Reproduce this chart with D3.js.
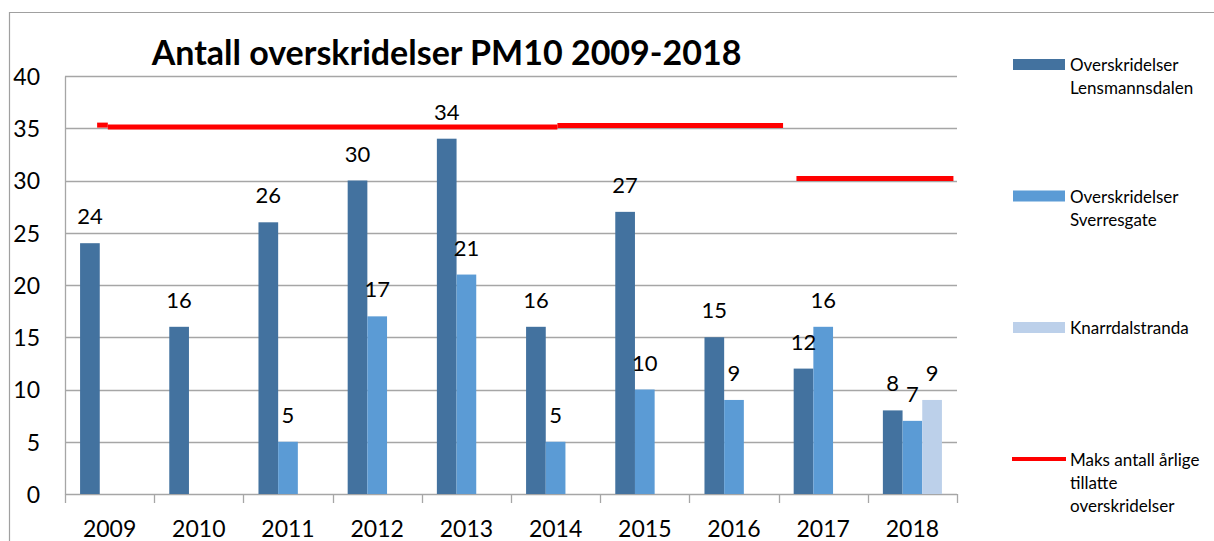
<!DOCTYPE html>
<html>
<head>
<meta charset="utf-8">
<script src="https://cdn.jsdelivr.net/npm/d3@7"></script>
<style>
  html, body { margin: 0; padding: 0; background: #fff; }
  svg { display: block; font-family: Lato, "Open Sans", sans-serif; }
</style>
</head>
<body>
<svg id="chart" width="1214" height="541"></svg>
<script>
// ---- data ----
const years = ["2009","2010","2011","2012","2013","2014","2015","2016","2017","2018"];
const seriesNames = ["Overskridelser Lensmannsdalen", "Overskridelser Sverresgate", "Knarrdalstranda"];
const lensmannsdalen = [24, 16, 26, 30, 34, 16, 27, 15, 12, 8];
const sverresgate    = [null, null, 5, 17, 21, 5, 10, 9, 16, 7];
const knarrdalstranda = [null, null, null, null, null, null, null, null, null, 9];
const yTicks = [0, 5, 10, 15, 20, 25, 30, 35, 40];
// "Maks antall årlige tillatte overskridelser" drawn segments (category-index positions)
const maksFrom  = [0.36, 0.48, 5.52, 8.20];
const maksTo    = [0.48, 5.52, 8.05, 9.96];
const maksValue = [35.3, 35.13, 35.27, 30.2];
const maksLabel = "Maks antall årlige tillatte overskridelser";
const titleText = "Antall overskridelser PM10 2009-2018";

const colors = ["#43729f", "#5b9bd5", "#bcd0ea"];
const red = "#ff0000";
const gridColor = "#a6a6a6";

const svg = d3.select("#chart");
const plot = {left: 65, right: 957, top: 76, bottom: 494};

// outer frame
svg.append("line").attr("x1", 9).attr("x2", 1214).attr("y1", 12.5).attr("y2", 12.5)
  .attr("stroke", "#a0a0a0").attr("stroke-width", 1.2);
svg.append("line").attr("x1", 9.5).attr("x2", 9.5).attr("y1", 12).attr("y2", 541)
  .attr("stroke", "#a0a0a0").attr("stroke-width", 1.2);

// scales
const y = d3.scaleLinear().domain([0, 40]).range([plot.bottom, plot.top]);
const x0 = d3.scaleBand().domain(years).range([plot.left, plot.right])
  .paddingInner(0.338).paddingOuter(0.169);
const x1 = d3.scaleBand().domain(d3.range(3)).range([0, x0.bandwidth()]);
const xc = d3.scaleLinear().domain([0, years.length]).range([plot.left, plot.right]);

// gridlines
svg.append("g").selectAll("line").data(yTicks).join("line")
  .attr("x1", plot.left).attr("x2", plot.right)
  .attr("y1", d => Math.round(y(d)) + 0.5).attr("y2", d => Math.round(y(d)) + 0.5)
  .attr("stroke", gridColor).attr("stroke-width", 1.3);

// y axis
const yAxis = svg.append("g").attr("transform", `translate(${plot.left},0)`)
  .call(d3.axisLeft(y).tickValues(yTicks).tickSize(0).tickPadding(25));
yAxis.select(".domain").attr("stroke", gridColor).attr("stroke-width", 1.3);
yAxis.selectAll("text").attr("font-size", 23).attr("fill", "#000")
  .attr("font-family", "Lato").attr("dy", "0.36em");

// x axis ticks at category boundaries
svg.append("g").selectAll("line").data(d3.range(years.length + 1)).join("line")
  .attr("x1", d => Math.round(xc(d)) + 0.5).attr("x2", d => Math.round(xc(d)) + 0.5)
  .attr("y1", plot.bottom).attr("y2", plot.bottom + 9)
  .attr("stroke", gridColor).attr("stroke-width", 1.3);
svg.append("g").selectAll("text").data(years).join("text")
  .attr("x", d => x0(d) + x0.bandwidth() / 2).attr("y", 537)
  .attr("text-anchor", "middle").attr("font-size", 23).text(d => d);

// bars
const allSeries = [lensmannsdalen, sverresgate, knarrdalstranda];
const barData = [];
allSeries.forEach((vals, si) => vals.forEach((v, i) => {
  if (v !== null) barData.push({year: years[i], s: si, v});
}));
svg.append("g").selectAll("rect").data(barData).join("rect")
  .attr("x", d => x0(d.year) + x1(d.s))
  .attr("width", x1.bandwidth())
  .attr("y", d => y(d.v))
  .attr("height", d => y(0) - y(d.v))
  .attr("fill", d => colors[d.s]);

// data labels
svg.append("g").selectAll("text").data(barData).join("text")
  .attr("x", d => x0(d.year) + x1(d.s) + x1.bandwidth() / 2)
  .attr("y", d => y(d.v) - 19)
  .attr("text-anchor", "middle").attr("font-size", 22).text(d => d.v);

// maks lines
svg.append("g").selectAll("line").data(maksValue).join("line")
  .attr("x1", (d, i) => xc(maksFrom[i])).attr("x2", (d, i) => xc(maksTo[i]))
  .attr("y1", d => y(d)).attr("y2", d => y(d))
  .attr("stroke", red).attr("stroke-width", 5);

// title
svg.append("text").attr("x", 446.5).attr("y", 65).attr("text-anchor", "middle")
  .attr("font-size", 34).attr("font-weight", "bold").text(titleText);

// legend
const legendItems = [
  {lines: ["Overskridelser", "Lensmannsdalen"], type: "rect", color: colors[0]},
  {lines: ["Overskridelser", "Sverresgate"], type: "rect", color: colors[1]},
  {lines: ["Knarrdalstranda"], type: "rect", color: colors[2]},
  {lines: ["Maks antall årlige", "tillatte", "overskridelser"], type: "line", color: red}
];
const legendY = d3.scalePoint().domain(d3.range(4)).range([64.5, 459]);
const lg = svg.append("g").selectAll("g").data(legendItems).join("g")
  .attr("transform", (d, i) => `translate(1013,${legendY(i)})`);
lg.filter(d => d.type === "rect").append("rect")
  .attr("x", 0).attr("y", -5.5).attr("width", 52).attr("height", 11).attr("fill", d => d.color);
lg.filter(d => d.type === "line").append("line")
  .attr("x1", -1).attr("x2", 53).attr("y1", 0).attr("y2", 0)
  .attr("stroke", d => d.color).attr("stroke-width", 4);
lg.append("text").attr("x", 57).attr("y", 6.5).attr("font-size", 17)
  .selectAll("tspan").data(d => d.lines).join("tspan")
  .attr("x", 57).attr("dy", (d, i) => i === 0 ? 0 : 23.3).text(d => d);
</script>
</body>
</html>
